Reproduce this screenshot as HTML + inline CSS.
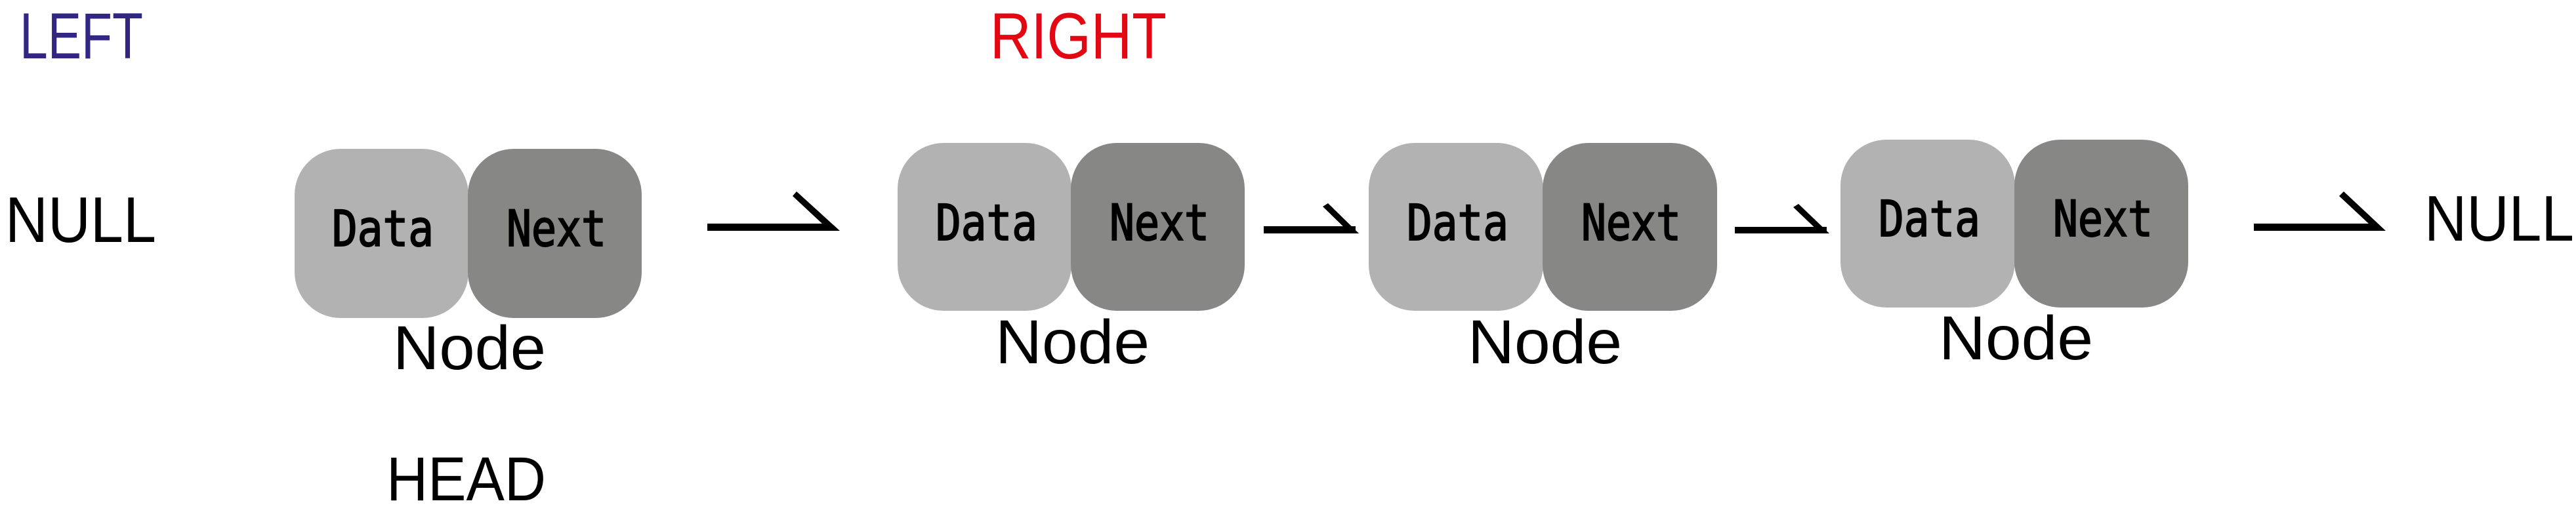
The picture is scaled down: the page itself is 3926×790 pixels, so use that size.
<!DOCTYPE html>
<html><head><meta charset="utf-8"><style>
html,body{margin:0;padding:0;background:#fff;width:3926px;height:790px;overflow:hidden}
svg{display:block}
.s{font-family:"Liberation Sans",sans-serif}
.m{font-family:"DejaVu Sans Mono","Liberation Mono",monospace;font-size:76px;stroke:#000;stroke-width:2}
</style></head><body>
<svg width="3926" height="790" viewBox="0 0 3926 790" xmlns="http://www.w3.org/2000/svg">
<text class="s" x="30" y="89" font-size="99" fill="#312783" textLength="188" lengthAdjust="spacingAndGlyphs">LEFT</text>
<text class="s" x="1509" y="89" font-size="99" fill="#e30613" textLength="269" lengthAdjust="spacingAndGlyphs">RIGHT</text>
<text class="s" x="8" y="369" font-size="98" fill="#000" textLength="230" lengthAdjust="spacingAndGlyphs">NULL</text>
<text class="s" x="3695" y="367" font-size="98" fill="#000" textLength="228" lengthAdjust="spacingAndGlyphs">NULL</text>
<text class="s" x="589" y="763" font-size="95" fill="#000" textLength="243" lengthAdjust="spacingAndGlyphs">HEAD</text>

<!-- node 1 -->
<rect x="449" y="227" width="265" height="258" rx="70" fill="#b2b2b2"/>
<rect x="713" y="227" width="265" height="258" rx="70" fill="#878786"/>
<text class="m" x="506" y="375" textLength="155" lengthAdjust="spacingAndGlyphs">Data</text>
<text class="m" x="772" y="375" textLength="152" lengthAdjust="spacingAndGlyphs">Next</text>
<text class="s" x="599" y="563" font-size="95" textLength="233" lengthAdjust="spacingAndGlyphs">Node</text>

<!-- node 2 -->
<rect x="1368" y="218" width="265" height="256" rx="70" fill="#b2b2b2"/>
<rect x="1632" y="218" width="265" height="256" rx="70" fill="#878786"/>
<text class="m" x="1426" y="366" textLength="155" lengthAdjust="spacingAndGlyphs">Data</text>
<text class="m" x="1691" y="366" textLength="152" lengthAdjust="spacingAndGlyphs">Next</text>
<text class="s" x="1517" y="554" font-size="95" textLength="235" lengthAdjust="spacingAndGlyphs">Node</text>

<!-- node 3 -->
<rect x="2086" y="218" width="266" height="256" rx="70" fill="#b2b2b2"/>
<rect x="2351" y="218" width="266" height="256" rx="70" fill="#878786"/>
<text class="m" x="2144" y="366" textLength="155" lengthAdjust="spacingAndGlyphs">Data</text>
<text class="m" x="2410" y="366" textLength="152" lengthAdjust="spacingAndGlyphs">Next</text>
<text class="s" x="2237" y="554" font-size="95" textLength="235" lengthAdjust="spacingAndGlyphs">Node</text>

<!-- node 4 -->
<rect x="2805" y="213" width="266" height="256" rx="70" fill="#b2b2b2"/>
<rect x="3070" y="213" width="265" height="256" rx="70" fill="#878786"/>
<text class="m" x="2863" y="360" textLength="155" lengthAdjust="spacingAndGlyphs">Data</text>
<text class="m" x="3129" y="360" textLength="152" lengthAdjust="spacingAndGlyphs">Next</text>
<text class="s" x="2955" y="548" font-size="95" textLength="235" lengthAdjust="spacingAndGlyphs">Node</text>

<!-- arrows -->
<polygon points="1078,341 1253,341 1208,299 1214,292 1280,352 1078,352" fill="#000"/>
<rect x="1926" y="345" width="140" height="11" fill="#000"/>
<polygon points="2016,315 2024,310 2071,356 2058,356" fill="#000"/>
<polygon points="2058,345 2071,356 2058,356" fill="#000"/>
<rect x="2644" y="346" width="140" height="10" fill="#000"/>
<polygon points="2733,316 2741,311 2788,356 2775,356" fill="#000"/>
<polygon points="3435,341 3610,341 3565,299 3572,292 3636,352 3435,352" fill="#000"/>
</svg>
</body></html>
